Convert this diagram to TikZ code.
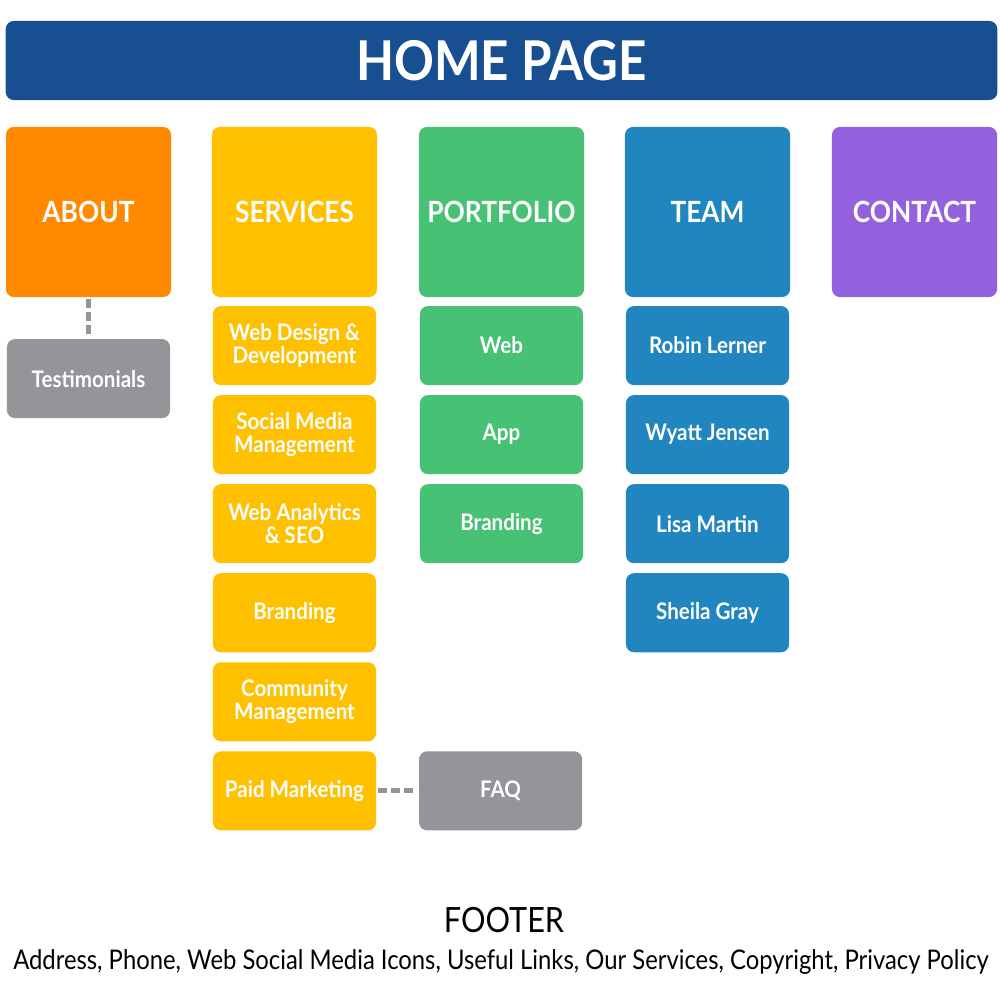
\documentclass[tikz,border=0pt]{standalone}
\usepackage{fontspec}
\setmainfont[FakeStretch=0.9]{Lato}
\newfontfamily\footfont[FakeStretch=0.88]{Lato}
\usetikzlibrary{positioning}

\definecolor{headblue}{HTML}{174F91}
\definecolor{aboutorange}{HTML}{FF8A00}
\definecolor{serviceyellow}{HTML}{FFC000}
\definecolor{folgreen}{HTML}{47C174}
\definecolor{teamblue}{HTML}{2185C0}
\definecolor{contactpurple}{HTML}{9461DE}
\definecolor{linkgray}{HTML}{939598}

\begin{document}
\begin{tikzpicture}[
    x=0.01cm, y=-0.01cm,
    node distance=0.1cm,
    box/.style={rectangle, rounded corners=0.08cm, text=white, align=center, inner sep=0pt, outer sep=0pt},
    mainbox/.style={box, minimum width=1.65cm, minimum height=1.7cm, font=\bfseries\fontsize{8.3}{10}\selectfont},
    subbox/.style={box, minimum width=1.63cm, minimum height=0.79cm, font=\bfseries\fontsize{6.5}{6.6}\selectfont},
    link/.style={draw=linkgray, line width=0.05cm, dash pattern=on 0.09cm off 0.04cm, shorten <=0.02cm, shorten >=0.02cm}
]
    \useasboundingbox (0,0) rectangle (1000,1000);

    \node[box, fill=headblue, minimum width=9.91cm, minimum height=0.79cm, font=\bfseries\fontsize{15.6}{18}\selectfont] (home) at (501.5,60.5) {HOME PAGE};

    % top row
    \node[mainbox, fill=aboutorange] (about) at (88.5,212) {ABOUT};
    \node[mainbox, fill=serviceyellow] (services) at (294.5,212) {SERVICES};
    \node[mainbox, fill=folgreen] (portfolio) at (501.5,212) {PORTFOLIO};
    \node[mainbox, fill=teamblue] (team) at (707.5,212) {TEAM};
    \node[mainbox, fill=contactpurple] (contact) at (914.5,212) {CONTACT};

    % about
    \node[subbox, fill=linkgray, below=0.42cm of about] (testi) {Testimonials};

    % services
    \node[subbox, fill=serviceyellow, below=0.09cm of services] (webdesign) {Web Design \&\\Development};
    \node[subbox, fill=serviceyellow, below=of webdesign] (social) {Social Media\\Management};
    \node[subbox, fill=serviceyellow, below=of social] (analytics) {Web Analytics\\\& SEO};
    \node[subbox, fill=serviceyellow, below=of analytics] (branding) {Branding};
    \node[subbox, fill=serviceyellow, below=of branding] (community) {Community\\Management};
    \node[subbox, fill=serviceyellow, below=of community] (paid) {Paid Marketing};

    % portfolio
    \node[subbox, fill=folgreen, below=0.09cm of portfolio] (web) {Web};
    \node[subbox, fill=folgreen, below=of web] (app) {App};
    \node[subbox, fill=folgreen, below=of app] (folbranding) {Branding};
    \node[subbox, fill=linkgray, right=0.43cm of paid] (faq) {FAQ};

    % team
    \node[subbox, fill=teamblue, below=0.09cm of team] (robin) {Robin Lerner};
    \node[subbox, fill=teamblue, below=of robin] (wyatt) {Wyatt Jensen};
    \node[subbox, fill=teamblue, below=of wyatt] (lisa) {Lisa Martin};
    \node[subbox, fill=teamblue, below=of lisa] (sheila) {Sheila Gray};

    \draw[link] (about) -- (testi);
    \draw[link] (paid) -- (faq);

    % footer
    \node[font=\footfont\fontsize{9.9}{11}\selectfont] (footer) at (504,920) {FOOTER};
    \node[font=\footfont\fontsize{7.7}{8}\selectfont] (footinfo) at (501,962) {Address, Phone, Web Social Media Icons, Useful Links, Our Services, Copyright, Privacy Policy};
\end{tikzpicture}
\end{document}
